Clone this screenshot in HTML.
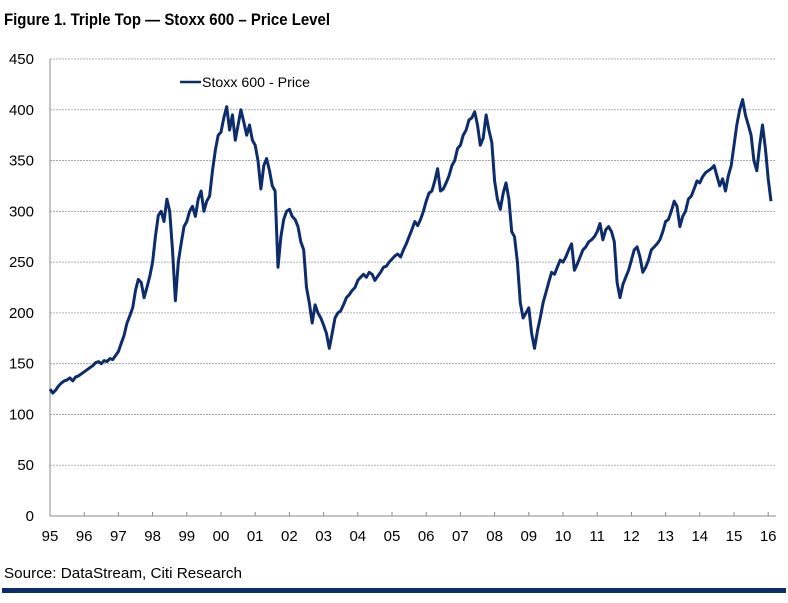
<!DOCTYPE html>
<html><head><meta charset="utf-8"><style>
body{margin:0;background:#fff;width:788px;height:598px;overflow:hidden;font-family:"Liberation Sans",Arial,sans-serif}
</style></head><body>
<svg id="chart" width="788" height="598">
<text x="4" y="25" font-size="17" font-weight="bold" fill="#000" textLength="326" lengthAdjust="spacingAndGlyphs">Figure 1. Triple Top — Stoxx 600 – Price Level</text>
<g id="grid"></g><g id="yt"></g><g id="xt"></g>
<line x1="50" y1="59" x2="50" y2="516" stroke="#888"/>
<line x1="50" y1="516" x2="776" y2="516" stroke="#888"/>
<path id="line" fill="none" stroke="#0d2c6c" stroke-width="3" stroke-linejoin="round"/>
<g>
<line x1="180" y1="82" x2="201" y2="82" stroke="#0d2c6c" stroke-width="2.5"/>
<text x="202" y="87" font-size="14" fill="#000" textLength="108" lengthAdjust="spacingAndGlyphs">Stoxx 600 - Price</text>
</g>
<text x="4" y="578" font-size="15" fill="#000" textLength="238" lengthAdjust="spacingAndGlyphs">Source: DataStream, Citi Research</text>
<rect x="2" y="588" width="784" height="5" fill="#0d2c6c"/>
</svg>
<script>
const startYear = 1995;
const yTicks = [0,50,100,150,200,250,300,350,400,450];
const xLabels = ["95","96","97","98","99","00","01","02","03","04","05","06","07","08","09","10","11","12","13","14","15","16"];
const prices = [
125,121,124,128,131,133,134,136,133,137,138,140,
142,144,146,148,151,152,150,153,152,155,154,158,
162,170,178,190,197,205,222,233,230,215,225,236,
250,275,296,300,290,312,300,262,212,250,268,285,
290,300,305,295,312,320,300,310,315,340,360,375,
378,392,403,380,395,370,385,400,388,375,385,370,
365,350,322,345,352,340,325,320,245,275,292,300,
302,295,292,285,270,262,225,210,190,208,200,195,
188,180,165,180,195,200,202,208,215,218,222,225,
232,235,238,235,240,238,232,236,240,245,246,250,
253,256,258,255,262,268,275,282,290,286,292,300,
310,318,320,330,342,320,322,328,335,345,350,362,
365,375,380,390,392,398,385,365,372,395,380,368,
330,312,302,318,328,312,280,275,250,210,195,200,
205,180,165,182,195,210,220,230,240,238,245,252,
250,255,262,268,242,248,255,262,265,270,272,275,
280,288,272,282,285,280,270,230,215,228,235,242,
252,262,265,255,240,245,252,262,265,268,272,280,
290,292,300,310,305,285,295,300,312,315,322,330,
328,334,338,340,342,345,335,325,332,320,335,345,
365,385,400,410,395,385,375,350,340,365,385,362,
332,310
];
const X0=50, XS=34.2, Y0=516, YS=457/450;
const xScale = t => X0 + (t - startYear) * XS;
const yScale = v => Y0 - v * YS;
const NS="http://www.w3.org/2000/svg";
const grid=document.getElementById('grid'), yt=document.getElementById('yt'), xt=document.getElementById('xt');
yTicks.forEach(v=>{
  const y=yScale(v);
  if(v>0){const l=document.createElementNS(NS,'line');
  l.setAttribute('x1',50);l.setAttribute('x2',776);l.setAttribute('y1',y);l.setAttribute('y2',y);
  l.setAttribute('stroke','#999');l.setAttribute('stroke-dasharray','2,1');l.setAttribute('stroke-width','0.8');
  
  
  grid.appendChild(l);}
  const t=document.createElementNS(NS,'text');
  t.setAttribute('x',34);t.setAttribute('y',y+5);t.setAttribute('text-anchor','end');t.setAttribute('font-size','15');
  t.textContent=v;
  
  
  yt.appendChild(t);
});
xLabels.forEach((s,i)=>{
  const x=xScale(startYear+i);
  const l=document.createElementNS(NS,'line');
  l.setAttribute('x1',x);l.setAttribute('x2',x);l.setAttribute('y1',512);l.setAttribute('y2',516);l.setAttribute('stroke','#888');
  
  
  xt.appendChild(l);
  const t=document.createElementNS(NS,'text');
  t.setAttribute('x',x);t.setAttribute('y',541);t.setAttribute('text-anchor','middle');t.setAttribute('font-size','15');
  t.textContent=s;
  
  
  xt.appendChild(t);
});
let d='';
prices.forEach((v,i)=>{d+=(i?'L':'M')+xScale(startYear+i/12).toFixed(1)+','+yScale(v).toFixed(1);});
document.getElementById('line').setAttribute('d',d);
</script>
</body></html>
